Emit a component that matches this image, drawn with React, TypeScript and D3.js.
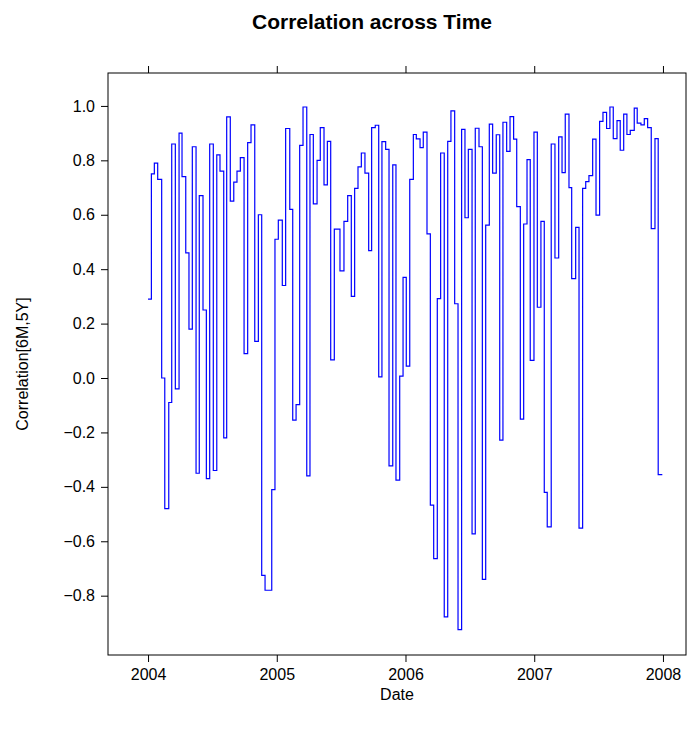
import { useEffect, useRef } from "react"
import * as d3 from "d3"

// decimal years (offset from 2004) and correlation values
const yearOffsets = [
  0.0, 0.026, 0.049, 0.075, 0.106, 0.13, 0.161, 0.184, 0.212, 0.241, 0.264, 0.293, 0.318, 0.344, 0.373,
  0.398, 0.427, 0.453, 0.479, 0.507, 0.534, 0.559, 0.588, 0.611, 0.639, 0.666, 0.691, 0.717, 0.746, 0.774,
  0.8, 0.829, 0.857, 0.883, 0.909, 0.961, 0.986,
  1.012, 1.043, 1.069, 1.101, 1.124, 1.15, 1.178, 1.204, 1.233, 1.258, 1.284, 1.313, 1.338, 1.367, 1.393,
  1.419, 1.447, 1.491, 1.522, 1.551, 1.579, 1.605, 1.631, 1.657, 1.685, 1.714, 1.737, 1.765, 1.792, 1.817,
  1.846, 1.872, 1.901, 1.926, 1.955, 1.981, 2.006,
  2.033, 2.061, 2.084, 2.113, 2.138, 2.167, 2.193, 2.219, 2.247, 2.273, 2.301, 2.328, 2.353, 2.382, 2.408,
  2.436, 2.462, 2.488, 2.517, 2.542, 2.571, 2.597, 2.623, 2.651, 2.677, 2.705, 2.732, 2.757, 2.786, 2.812,
  2.84, 2.864, 2.892, 2.918, 2.944, 2.969, 2.998, 3.024,
  3.052, 3.078, 3.101, 3.132, 3.161, 3.19, 3.216, 3.241, 3.27, 3.291, 3.322, 3.348, 3.376, 3.4, 3.425,
  3.454, 3.48, 3.508, 3.534, 3.562, 3.588, 3.614, 3.643, 3.668, 3.695, 3.72, 3.746, 3.777, 3.8, 3.829,
  3.855, 3.881, 3.909, 3.938, 3.963, 3.995,
]

const correlations = [
  0.29, 0.75, 0.79, 0.73, 0.0, -0.48, -0.09, 0.86, -0.04, 0.9, 0.74, 0.46, 0.18, 0.85, -0.35,
  0.67, 0.25, -0.37, 0.86, -0.34, 0.82, 0.76, -0.22, 0.96, 0.65, 0.72, 0.76, 0.81, 0.09, 0.865,
  0.93, 0.135, 0.6, -0.725, -0.78, -0.41, 0.51,
  0.58, 0.34, 0.917, 0.62, -0.155, -0.098, 0.855, 0.996, -0.36, 0.895, 0.64, 0.8, 0.92, 0.71, 0.87,
  0.067, 0.547, 0.394, 0.576, 0.67, 0.3, 0.697, 0.776, 0.827, 0.753, 0.468, 0.92, 0.929, 0.004, 0.869,
  0.84, -0.323, 0.783, -0.375, 0.007, 0.37, 0.044,
  0.73, 0.895, 0.879, 0.847, 0.904, 0.53, -0.467, -0.664, 0.292, 0.827, -0.878, 0.87, 0.982, 0.273, -0.925,
  0.914, 0.589, 0.84, -0.573, 0.918, 0.85, -0.74, 0.562, 0.933, 0.753, 0.894, -0.228, 0.94, 0.833, 0.961,
  0.878, 0.63, -0.151, 0.566, 0.803, 0.065, 0.904, 0.26,
  0.576, -0.42, -0.547, 0.86, 0.441, 0.886, 0.755, 0.97, 0.7, 0.365, 0.554, -0.552, 0.697, 0.722, 0.744,
  0.878, 0.599, 0.943, 0.976, 0.917, 0.996, 0.88, 0.946, 0.837, 0.97, 0.895, 0.91, 0.992, 0.937, 0.93,
  0.953, 0.92, 0.549, 0.88, -0.355, -0.355,
]

const xTicks = [2004, 2005, 2006, 2007, 2008]
const yTicks = [-0.8, -0.6, -0.4, -0.2, 0.0, 0.2, 0.4, 0.6, 0.8, 1.0]

export default function App() {
  const svgRef = useRef<SVGSVGElement>(null)

  useEffect(() => {
    if (!svgRef.current) return
    const svg = d3.select(svgRef.current)
    svg.selectAll("*").remove()

    const left = 108, right = 686, top = 73, bottom = 655
    const font = "Liberation Sans, Arial, sans-serif"

    const data = yearOffsets.map((o, i) => ({ year: 2004 + o, value: correlations[i] }))

    const x = d3.scaleLinear().domain([2003.689, 2008.179]).range([left, right])
    const y = d3.scaleLinear().domain([-1.018, 1.121]).range([bottom, top])

    // panel box
    svg.append("rect")
      .attr("x", left).attr("y", top)
      .attr("width", right - left).attr("height", bottom - top)
      .attr("fill", "none").attr("stroke", "black").attr("stroke-width", 1)

    // bottom axis
    const bottomAxis = svg.append("g")
      .attr("transform", `translate(0,${bottom})`)
      .call(d3.axisBottom(x).tickValues(xTicks).tickFormat(d => String(d)).tickSize(7).tickPadding(7))
    bottomAxis.select(".domain").remove()
    bottomAxis.selectAll("text").attr("font-size", 16).attr("font-family", font)

    // top axis (ticks only)
    const topAxis = svg.append("g")
      .attr("transform", `translate(0,${top})`)
      .call(d3.axisTop(x).tickValues(xTicks).tickFormat(() => "").tickSize(7))
    topAxis.select(".domain").remove()

    // left axis
    const leftAxis = svg.append("g")
      .attr("transform", `translate(${left},0)`)
      .call(d3.axisLeft(y).tickValues(yTicks).tickFormat(d => d3.format(".1f")(d as number).replace("-", "\u2212")).tickSize(7).tickPadding(6))
    leftAxis.select(".domain").remove()
    leftAxis.selectAll("text").attr("font-size", 16).attr("font-family", font)

    // step line
    const line = d3.line<{ year: number; value: number }>()
      .x(d => x(d.year))
      .y(d => y(d.value))
      .curve(d3.curveStepAfter)

    svg.append("path")
      .datum(data)
      .attr("fill", "none")
      .attr("stroke", "#0000ff")
      .attr("stroke-width", 1.2)
      .attr("d", line)

    // titles
    svg.append("text")
      .attr("x", 372).attr("y", 29)
      .attr("text-anchor", "middle")
      .attr("font-family", font).attr("font-size", 21).attr("font-weight", "bold")
      .text("Correlation across Time")

    svg.append("text")
      .attr("x", (left + right) / 2).attr("y", 700)
      .attr("text-anchor", "middle")
      .attr("font-family", font).attr("font-size", 16)
      .text("Date")

    svg.append("text")
      .attr("transform", `translate(28,${(top + bottom) / 2}) rotate(-90)`)
      .attr("text-anchor", "middle")
      .attr("font-family", font).attr("font-size", 16)
      .text("Correlation[6M,5Y]")
  }, [])

  return (
    <svg
      ref={svgRef}
      width={697}
      height={731}
      style={{ position: "absolute", left: 0, top: 0, background: "white" }}
    />
  )
}
